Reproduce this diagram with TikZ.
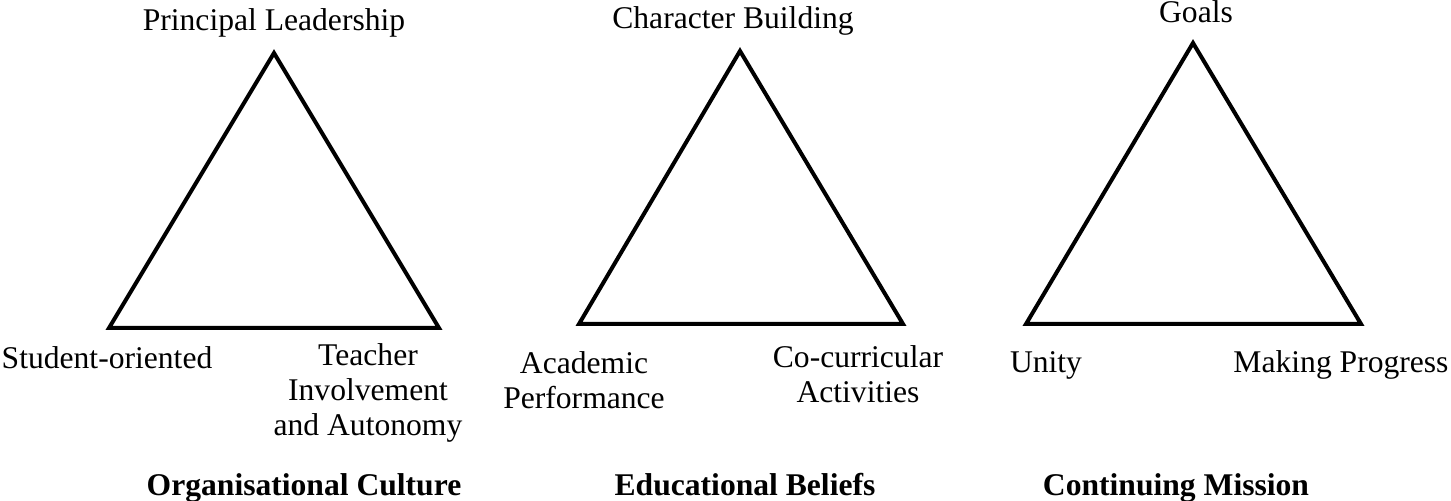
\documentclass[tikz,border=0pt]{standalone}
\usepackage{fontspec}
\setmainfont{Liberation Serif}
\usetikzlibrary{positioning}

\begin{document}
\begin{tikzpicture}[x=0.5pt,y=-0.5pt,
  tri/.style={line width=2pt,line join=miter},
  lbl/.style={font=\fontsize{15.8}{17.5}\selectfont,align=center,inner sep=0pt,anchor=base},
  ttl/.style={lbl,font=\fontsize{15.8}{17.5}\selectfont\bfseries}]
\useasboundingbox (0,0) rectangle (1451,501);

% Organisational Culture
\coordinate (oc-top) at (274,53);
\coordinate (oc-left) at (109,328);
\coordinate (oc-right) at (439,328);
\draw[tri] (oc-top) -- (oc-left) -- (oc-right) -- cycle;
\node[lbl] (oc-lead) at (274,31) {Principal Leadership};
\node[lbl] (oc-stud) at (107,369) {Student-oriented};
\node[lbl] (oc-teach) at (368,436) {Teacher\\Involvement\\and Autonomy};
\node[ttl] (oc-title) at (304,496) {Organisational Culture};

% Educational Beliefs
\coordinate (eb-top) at (740,51);
\coordinate (eb-left) at (579,324);
\coordinate (eb-right) at (903,324);
\draw[tri] (eb-top) -- (eb-left) -- (eb-right) -- cycle;
\node[lbl] (eb-char) at (733,29) {Character Building};
\node[lbl] (eb-acad) at (584,409) {Academic\\Performance};
\node[lbl] (eb-cocu) at (858,403) {Co-curricular\\Activities};
\node[ttl] (eb-title) at (745,496) {Educational Beliefs};

% Continuing Mission
\coordinate (cm-top) at (1193,43);
\coordinate (cm-left) at (1026,324);
\coordinate (cm-right) at (1361,324);
\draw[tri] (cm-top) -- (cm-left) -- (cm-right) -- cycle;
\node[lbl] (cm-goal) at (1196,23) {Goals};
\node[lbl] (cm-unit) at (1046,373) {Unity};
\node[lbl] (cm-prog) at (1341,373) {Making Progress};
\node[ttl] (cm-title) at (1176,496) {Continuing Mission};
\end{tikzpicture}
\end{document}
